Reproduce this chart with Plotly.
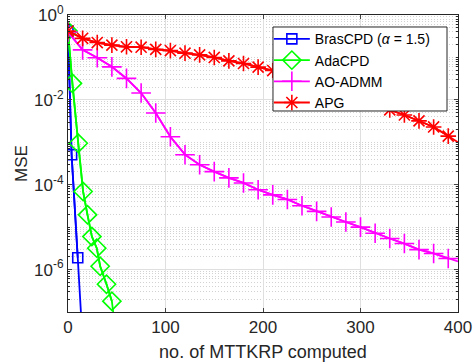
import plotly.graph_objects as go

# ---------------- data ----------------
bras_x = [0, 3.7, 10, 14]
bras_y = [0.42, 5.1e-4, 1.9e-6, 5e-8]
bras_nmark = 3

ada_x = [0, 4.5, 10.5, 15.5, 20, 24.5, 29.5, 33, 39.5, 45, 49]
ada_y = [0.417, 0.0245, 9.5e-4, 6.9e-5, 1.95e-5, 6.0e-6, 3.2e-6, 1.2e-6, 4.5e-7, 1.8e-7, 3e-8]
ada_nmark = 10

ao_x = [0, 15, 30, 45, 60, 75, 90, 105, 120, 135, 150, 165, 180, 195, 210,
        225, 240, 255, 270, 285, 300, 315, 330, 345, 360, 375, 390, 400]
ao_y = [0.398, 0.151, 0.098, 0.060, 0.032, 0.0145, 0.0049, 0.00135, 5.1e-4,
        2.95e-4, 2.04e-4, 1.45e-4, 1.10e-4, 7.6e-5, 5.75e-5, 4.5e-5, 3.2e-5,
        2.35e-5, 1.74e-5, 1.32e-5, 1.0e-5, 7.2e-6, 5.4e-6, 4.1e-6, 2.95e-6,
        2.4e-6, 1.82e-6, 1.55e-6]
ao_nmark = 27

apg_x = ao_x
apg_y = [0.417, 0.282, 0.224, 0.195, 0.178, 0.174, 0.155, 0.145, 0.126, 0.115,
         0.100, 0.083, 0.072, 0.059, 0.049, 0.041, 0.033, 0.026, 0.020, 0.0155,
         0.0115, 0.0083, 0.0058, 0.0044, 0.0032, 0.0023, 0.0014, 0.0010]
apg_nmark = 27

y_tickvals = [1e-6, 1e-4, 1e-2, 1]
y_ticktext = ["10<sup>-6</sup>", "10<sup>-4</sup>", "10<sup>-2</sup>", "10<sup>0</sup>"]
x_tickvals = [0, 100, 200, 300, 400]

series = [
    ("BrasCPD (<i>α</i> = 1.5)", bras_x, bras_y, bras_nmark, "#0000ff", "square-open", 10),
    ("AdaCPD", ada_x, ada_y, ada_nmark, "#00ff00", "diamond-open", 14),
    ("AO-ADMM", ao_x, ao_y, ao_nmark, "#ff00ff", "cross-thin-open", 14),
    ("APG", apg_x, apg_y, apg_nmark, "#ff0000", "asterisk-open", 13),
]

fig = go.Figure()
for name, xs, ys, nm, col, sym, ms in series:
    fig.add_trace(go.Scatter(
        x=xs, y=ys, mode="lines", line=dict(color=col, width=1.8),
        showlegend=False, legendgroup=name, hoverinfo="skip"))
    fig.add_trace(go.Scatter(
        x=xs[:nm], y=ys[:nm], mode="lines+markers", name=name, legendgroup=name,
        line=dict(color=col, width=1.8),
        marker=dict(symbol=sym, size=ms, color=col, line=dict(color=col, width=1.6))))

minor_vals = [m * 10.0 ** e for e in range(-7, 0) for m in range(1, 10)
              if not (m == 1 and e % 2 == 0)]

axis_col = "#262626"

# legend frame (white box with dark border) drawn behind the legend entries
fig.add_shape(type="rect", xref="paper", yref="paper",
              x0=0.5256, x1=0.9718, y0=0.6768, y1=0.9596,
              fillcolor="white", line=dict(color=axis_col, width=1), layer="above")

fig.update_layout(
    width=473, height=362,
    margin=dict(l=68, r=15, t=15, b=50),
    paper_bgcolor="white", plot_bgcolor="white",
    font=dict(family="Liberation Sans, Arial, sans-serif", size=17, color=axis_col),
    legend=dict(
        x=0.515, y=0.972, xanchor="left", yanchor="top",
        bgcolor="rgba(0,0,0,0)", borderwidth=0,
        font=dict(size=14, color="#000000"),
        tracegroupgap=0, itemwidth=36,
    ),
    xaxis=dict(
        range=[0, 400], tickvals=x_tickvals, ticks="inside", ticklen=4,
        showline=True, linecolor=axis_col, linewidth=1, mirror="ticks",
        showgrid=True, gridcolor="#dfdfdf", gridwidth=1, zeroline=False,
        automargin=False, ticklabeloverflow="allow",
        title=dict(text="no. of MTTKRP computed", standoff=8, font=dict(size=18)),
        tickfont=dict(size=17),
    ),
    yaxis=dict(
        type="log", range=[-7, 0], tickvals=y_tickvals, ticktext=y_ticktext,
        ticks="inside", ticklen=4, automargin=False, ticklabeloverflow="allow",
        showline=True, linecolor=axis_col, linewidth=1, mirror="ticks",
        showgrid=True, gridcolor="#dfdfdf", gridwidth=1, zeroline=False,
        title=dict(text="MSE", standoff=2, font=dict(size=17)),
        tickfont=dict(size=17),
        minor=dict(tickvals=minor_vals, ticks="inside", ticklen=2,
                   tickcolor=axis_col, showgrid=True, gridcolor="#d2d2d2",
                   griddash="1px,2px", gridwidth=1),
    ),
)

fig.write_html("out.html", config={"displayModeBar": False},
               post_script="document.body.style.margin='0';document.body.style.overflow='hidden';")
